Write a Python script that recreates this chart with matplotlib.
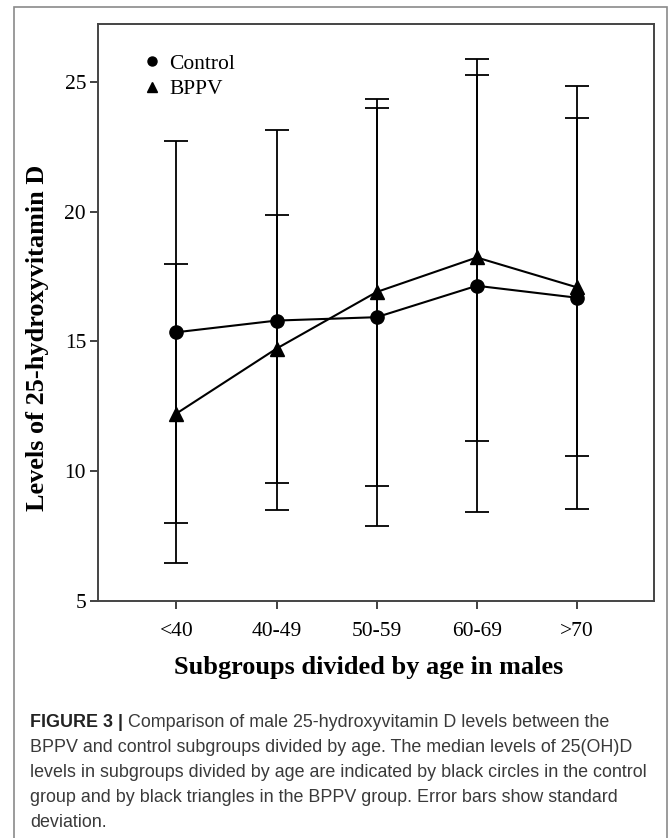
import numpy as np
import matplotlib
matplotlib.use("Agg")
import matplotlib.pyplot as plt
from matplotlib.lines import Line2D
from matplotlib.patches import Rectangle

# Age subgroups (males)
age_groups = ['<40', '40-49', '50-59', '60-69', '>70']

# Control group: median and error bar ends
control_mid = [15.35, 15.80, 15.93, 17.14, 16.68]
control_hi = [22.72, 23.14, 23.99, 25.86, 24.82]
control_lo = [7.99, 8.50, 7.90, 8.43, 8.55]

# BPPV group: median and error bar ends
bppv_mid = [12.22, 14.72, 16.90, 18.23, 17.08]
bppv_hi = [17.98, 19.86, 24.32, 25.27, 23.59]
bppv_lo = [6.47, 9.54, 9.44, 11.15, 10.57]

y_ticks = [5, 10, 15, 20, 25]

caption_lines = [
    "Comparison of male 25-hydroxyvitamin D levels between the",
    "BPPV and control subgroups divided by age. The median levels of 25(OH)D",
    "levels in subgroups divided by age are indicated by black circles in the control",
    "group and by black triangles in the BPPV group. Error bars show standard",
    "deviation.",
]

serif = 'Liberation Serif'
cap_font, cap_size = 'Liberation Sans', 12.85

W, H = 669, 838
fig = plt.figure(figsize=(W / 100, H / 100), dpi=100)

# outer frame of the figure panel (open at the bottom)
fig.patches.append(Rectangle((14 / W, -0.05), (667 - 14) / W, 1.05 - 7.5 / H,
                             transform=fig.transFigure, fill=False,
                             edgecolor='#8a8a8a', lw=1.2))

ax = fig.add_axes([98.3 / W, 1 - 601 / H, (654 - 98.3) / W, (601 - 24.3) / H])

x = np.arange(len(age_groups))

def draw_group(mid, lo, hi, marker, label):
    mid = np.array(mid)
    err = [mid - np.array(lo), np.array(hi) - mid]
    ax.errorbar(x, mid, yerr=err, fmt='none', ecolor='black', elinewidth=1.3,
                capsize=8.8, capthick=1.3, zorder=2)
    ax.plot(x, mid, color='black', lw=1.5, marker=marker, markersize=9.5,
            markerfacecolor='black', markeredgecolor='black', zorder=3, label=label)

draw_group(control_mid, control_lo, control_hi, 'o', 'Control')
draw_group(bppv_mid, bppv_lo, bppv_hi, '^', 'BPPV')

ax.set_xlim(-0.78, 4.77)
ax.set_ylim(5, 27.21)
ax.set_xticks(x)
ax.set_xticklabels(age_groups, fontfamily=serif, fontsize=15.5)
ax.set_yticks(y_ticks)
ax.set_yticklabels([str(v) for v in y_ticks], fontfamily=serif, fontsize=15.5)
ax.tick_params(axis='both', direction='out', length=5.8, width=1.3, color='#333333')
ax.tick_params(axis='x', pad=9)
ax.tick_params(axis='y', pad=3)
for s in ax.spines.values():
    s.set_color('#444444')
    s.set_linewidth(1.4)

handles = [Line2D([], [], color='black', marker='o', linestyle='none', markersize=6.5),
           Line2D([], [], color='black', marker='^', linestyle='none', markersize=7)]
ax.legend(handles, ['Control', 'BPPV'], loc='upper left', bbox_to_anchor=(0.082, 0.949),
          frameon=False, prop={'family': serif, 'size': 15.5}, handlelength=0.8,
          handletextpad=0.37, labelspacing=0.25, borderpad=0, borderaxespad=0)

fig.text(38 / W, 1 - 338 / H, 'Levels of 25-hydroxyvitamin D', rotation=90,
         ha='center', va='center', fontfamily=serif, fontweight='bold', fontsize=18.9)
fig.text(368.5 / W, 1 - 667 / H, 'Subgroups divided by age in males',
         ha='center', va='center', fontfamily=serif, fontweight='bold', fontsize=18.9)

# caption
cap_color = '#3a3a3a'
line_y = [722, 747.5, 772.5, 797.5, 822.5]
head = fig.text(30 / W, 1 - line_y[0] / H, 'FIGURE 3 |', ha='left', va='center',
                fontfamily=cap_font, fontweight='bold', fontsize=cap_size, color='#222222')
ax.annotate(' ' + caption_lines[0], xy=(1, 0), xycoords=head, va='bottom', ha='left',
            fontfamily=cap_font, fontsize=cap_size, color=cap_color, annotation_clip=False)
for yy, line in zip(line_y[1:], caption_lines[1:]):
    fig.text(30 / W, 1 - yy / H, line, ha='left', va='center',
             fontfamily=cap_font, fontsize=cap_size, color=cap_color)

fig.savefig('out.png', dpi=100)
